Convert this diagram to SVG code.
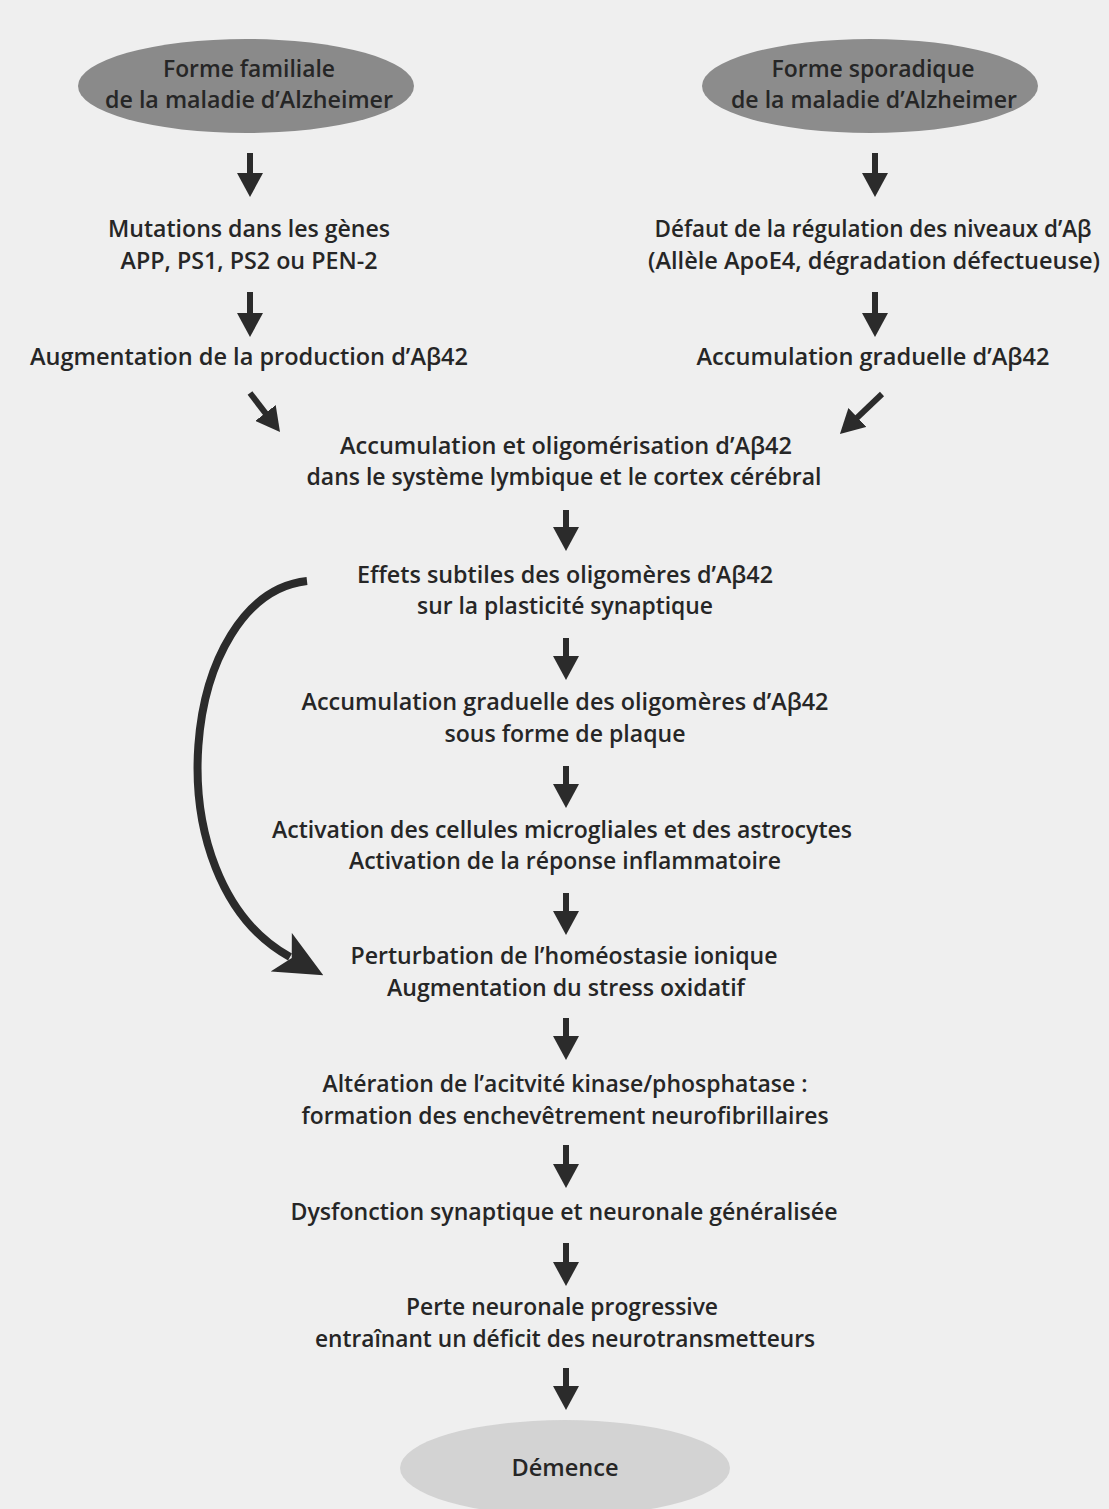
<svg xmlns="http://www.w3.org/2000/svg" width="1109" height="1509" viewBox="0 0 1109 1509">
<defs>
<style>
text{font-family:"Open Sans","Noto Sans","Liberation Sans",sans-serif;font-weight:600;font-size:23px;fill:#262626;text-anchor:middle}
.link{stroke:#2b2b2b;stroke-width:6;fill:none}
.curve{stroke:#2b2b2b;stroke-width:8;fill:none}
</style>
<marker id="ah" viewBox="0 0 24 26" markerWidth="24" markerHeight="26" markerUnits="userSpaceOnUse" refX="2" refY="13" orient="auto">
<path d="M0,0 L24,13 L0,26 z" fill="#2b2b2b"/>
</marker>
<marker id="ahc" viewBox="0 0 48 44" markerWidth="48" markerHeight="44" markerUnits="userSpaceOnUse" refX="10" refY="22" orient="auto">
<path d="M0,0 L48,22 L0,44 L12,22 z" fill="#2b2b2b"/>
</marker>
</defs>
<rect width="1109" height="1509" fill="#efefef"/>

<g id="n-familiale">
<ellipse cx="246" cy="86" rx="168" ry="47" fill="#8a8a8a"/>
<text x="249" y="77" textLength="172" lengthAdjust="spacingAndGlyphs">Forme familiale</text>
<text x="249" y="108" textLength="288" lengthAdjust="spacingAndGlyphs">de la maladie d’Alzheimer</text>
</g>
<g id="n-sporadique">
<ellipse cx="870" cy="86" rx="168" ry="47" fill="#8c8c8c"/>
<text x="873" y="77" textLength="203" lengthAdjust="spacingAndGlyphs">Forme sporadique</text>
<text x="874" y="108" textLength="286" lengthAdjust="spacingAndGlyphs">de la maladie d’Alzheimer</text>
</g>
<g id="n-mutations">
<text x="249" y="237" textLength="282" lengthAdjust="spacingAndGlyphs">Mutations dans les gènes</text>
<text x="249" y="269" textLength="257" lengthAdjust="spacingAndGlyphs">APP, PS1, PS2 ou PEN-2</text>
</g>
<g id="n-defaut">
<text x="873" y="237" textLength="437" lengthAdjust="spacingAndGlyphs">Défaut de la régulation des niveaux d’Aβ</text>
<text x="874" y="269" textLength="452" lengthAdjust="spacingAndGlyphs">(Allèle ApoE4,  dégradation défectueuse)</text>
</g>
<g id="n-augmentation">
<text x="249" y="365" textLength="438" lengthAdjust="spacingAndGlyphs">Augmentation de la production d’Aβ42</text>
</g>
<g id="n-accum-graduelle">
<text x="873" y="365" textLength="353" lengthAdjust="spacingAndGlyphs">Accumulation graduelle d’Aβ42</text>
</g>
<g id="n-oligomerisation">
<text x="566" y="454" textLength="452" lengthAdjust="spacingAndGlyphs">Accumulation et oligomérisation d’Aβ42</text>
<text x="564" y="485" textLength="515" lengthAdjust="spacingAndGlyphs">dans le système lymbique et le cortex cérébral</text>
</g>
<g id="n-effets">
<text x="565" y="583" textLength="416" lengthAdjust="spacingAndGlyphs">Effets subtiles des oligomères d’Aβ42</text>
<text x="565" y="614" textLength="296" lengthAdjust="spacingAndGlyphs">sur la plasticité synaptique</text>
</g>
<g id="n-plaque">
<text x="565" y="710" textLength="527" lengthAdjust="spacingAndGlyphs">Accumulation graduelle des oligomères d’Aβ42</text>
<text x="565" y="742" textLength="241" lengthAdjust="spacingAndGlyphs">sous forme de plaque</text>
</g>
<g id="n-activation">
<text x="562" y="838" textLength="580" lengthAdjust="spacingAndGlyphs">Activation des cellules microgliales et des astrocytes</text>
<text x="565" y="869" textLength="432" lengthAdjust="spacingAndGlyphs">Activation de la réponse inflammatoire</text>
</g>
<g id="n-perturbation">
<text x="564" y="964" textLength="427" lengthAdjust="spacingAndGlyphs">Perturbation de l’homéostasie ionique</text>
<text x="566" y="996" textLength="358" lengthAdjust="spacingAndGlyphs">Augmentation du stress oxidatif</text>
</g>
<g id="n-alteration">
<text x="565" y="1092" textLength="485" lengthAdjust="spacingAndGlyphs">Altération de l’acitvité kinase/phosphatase :</text>
<text x="565" y="1124" textLength="527" lengthAdjust="spacingAndGlyphs">formation des enchevêtrement neurofibrillaires</text>
</g>
<g id="n-dysfonction">
<text x="564" y="1220" textLength="547" lengthAdjust="spacingAndGlyphs">Dysfonction synaptique et neuronale généralisée</text>
</g>
<g id="n-perte">
<text x="562" y="1315" textLength="312" lengthAdjust="spacingAndGlyphs">Perte neuronale progressive</text>
<text x="565" y="1347" textLength="500" lengthAdjust="spacingAndGlyphs">entraînant un déficit des neurotransmetteurs</text>
</g>
<g id="n-demence">
<ellipse cx="565" cy="1468" rx="165" ry="48" fill="#d3d3d3"/>
<text x="565" y="1476" textLength="107" lengthAdjust="spacingAndGlyphs">Démence</text>
</g>

<g id="connectors">
<line class="link" x1="250" y1="153" x2="250" y2="175" marker-end="url(#ah)"/>
<line class="link" x1="875" y1="153" x2="875" y2="175" marker-end="url(#ah)"/>
<line class="link" x1="250" y1="292" x2="250" y2="315" marker-end="url(#ah)"/>
<line class="link" x1="875" y1="292" x2="875" y2="315" marker-end="url(#ah)"/>
<line class="link" x1="250" y1="393" x2="266.6" y2="414.6" marker-end="url(#ah)"/>
<line class="link" x1="882" y1="394" x2="855.9" y2="418.8" marker-end="url(#ah)"/>
<line class="link" x1="566" y1="510" x2="566" y2="529" marker-end="url(#ah)"/>
<line class="link" x1="566" y1="638" x2="566" y2="658" marker-end="url(#ah)"/>
<line class="link" x1="566" y1="766" x2="566" y2="786" marker-end="url(#ah)"/>
<line class="link" x1="566" y1="893" x2="566" y2="913" marker-end="url(#ah)"/>
<line class="link" x1="566" y1="1018" x2="566" y2="1038" marker-end="url(#ah)"/>
<line class="link" x1="566" y1="1145" x2="566" y2="1166" marker-end="url(#ah)"/>
<line class="link" x1="566" y1="1243" x2="566" y2="1264" marker-end="url(#ah)"/>
<line class="link" x1="566" y1="1368" x2="566" y2="1388" marker-end="url(#ah)"/>
<path class="curve" d="M307,581 C180,595 150,880 290,957" marker-end="url(#ahc)"/>
</g>
</svg>
